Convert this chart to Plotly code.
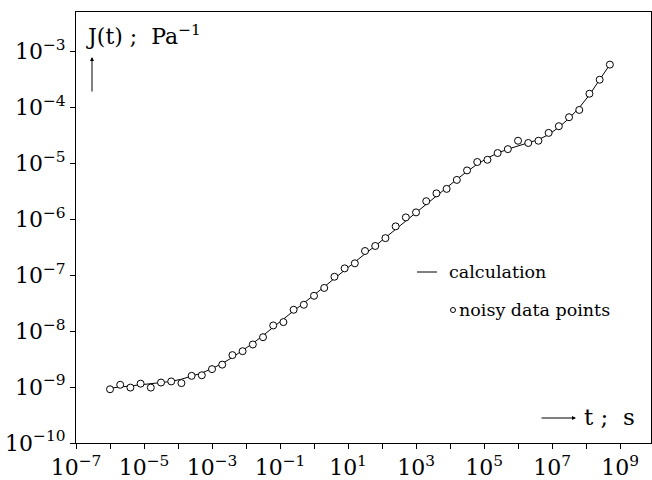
import plotly.graph_objects as go

# decimal exponents of time t (s)
log_t = [-6.0, -5.7, -5.4, -5.1, -4.8, -4.5, -4.2, -3.9, -3.6, -3.3,
         -3.0, -2.7, -2.4, -2.1, -1.8, -1.5, -1.2, -0.9, -0.6, -0.3,
         0.0, 0.3, 0.6, 0.9, 1.2, 1.5, 1.8, 2.1, 2.4, 2.7,
         3.0, 3.3, 3.6, 3.9, 4.2, 4.5, 4.8, 5.1, 5.4, 5.7,
         6.0, 6.3, 6.6, 6.9, 7.2, 7.5, 7.8, 8.1, 8.4, 8.7]

# decimal exponents of J(t) (Pa^-1), noisy data points
log_J_data = [-9.04, -8.96, -9.01, -8.94, -9.01, -8.92, -8.90, -8.93, -8.80, -8.79,
              -8.68, -8.60, -8.43, -8.36, -8.24, -8.11, -7.90, -7.84, -7.62, -7.53,
              -7.37, -7.23, -7.03, -6.88, -6.79, -6.57, -6.48, -6.34, -6.13, -5.97,
              -5.88, -5.68, -5.54, -5.46, -5.30, -5.13, -4.98, -4.94, -4.82, -4.75,
              -4.60, -4.64, -4.60, -4.46, -4.34, -4.18, -4.05, -3.76, -3.51, -3.24]

# decimal exponents of J(t), calculation curve
log_J_calc = [-9.02, -9.00, -8.98, -8.97, -8.95, -8.93, -8.90, -8.86, -8.81, -8.75,
              -8.67, -8.58, -8.47, -8.35, -8.22, -8.08, -7.93, -7.79, -7.64, -7.50,
              -7.36, -7.21, -7.06, -6.91, -6.77, -6.62, -6.48, -6.33, -6.18, -6.03,
              -5.88, -5.73, -5.58, -5.44, -5.29, -5.15, -5.02, -4.91, -4.82, -4.75,
              -4.69, -4.64, -4.58, -4.49, -4.36, -4.20, -4.01, -3.78, -3.52, -3.24]

# labelled decades on the time axis, and unlabelled in-between decades
x_label_exp = [-7, -5, -3, -1, 1, 3, 5, 7, 9]
x_minor_exp = [-6, -4, -2, 0, 2, 4, 6, 8]
x_tick_labels = ["10<sup>\u22127</sup>", "10<sup>\u22125</sup>", "10<sup>\u22123</sup>",
                 "10<sup>\u22121</sup>", "10<sup>1</sup>", "10<sup>3</sup>",
                 "10<sup>5</sup>", "10<sup>7</sup>", "10<sup>9</sup>"]
y_label_exp = [-10, -9, -8, -7, -6, -5, -4, -3]
y_tick_labels = ["10<sup>\u221210</sup>", "10<sup>\u22129</sup>", "10<sup>\u22128</sup>",
                 "10<sup>\u22127</sup>", "10<sup>\u22126</sup>", "10<sup>\u22125</sup>",
                 "10<sup>\u22124</sup>", "10<sup>\u22123</sup>"]

t = [10 ** v for v in log_t]
J_data = [10 ** v for v in log_J_data]
J_calc = [10 ** v for v in log_J_calc]

FONT = "DejaVu Serif"
NB = "\u00a0"

fig = go.Figure()
fig.add_trace(go.Scatter(x=t, y=J_calc, mode="lines", name="calculation",
                         line=dict(color="black", width=1), showlegend=False))
fig.add_trace(go.Scatter(x=t, y=J_data, mode="markers", name="noisy data points",
                         marker=dict(symbol="circle", size=7, color="white",
                                     line=dict(color="black", width=1)),
                         showlegend=False))

axis_common = dict(type="log", showgrid=False, zeroline=False, showline=True,
                   linecolor="black", linewidth=1, mirror=True, ticks="outside",
                   ticklen=5, tickcolor="black", tickwidth=1,
                   tickfont=dict(family=FONT, size=22, color="black"))

fig.update_xaxes(range=[-7, 9.91], tickmode="array",
                 tickvals=[10 ** e for e in x_label_exp], ticktext=x_tick_labels,
                 minor=dict(tickvals=[10 ** e for e in x_minor_exp], ticks="outside",
                            ticklen=5, tickcolor="black", tickwidth=1, showgrid=False),
                 **axis_common)
fig.update_yaxes(range=[-10, -2.30], tickmode="array",
                 tickvals=[10 ** e for e in y_label_exp], ticktext=y_tick_labels,
                 **axis_common)

W, H = 652, 480
L, R, T, B = 76, 1, 12, 37
pw, ph = W - L - R, H - T - B


def px(xp):
    return (xp - L) / pw


def py(yp):
    return (H - B - yp) / ph


annotations = [
    dict(x=px(84), y=py(35), xref="paper", yref="paper", xanchor="left", yanchor="middle",
         text="J(t)" + NB + ";" + NB + NB + "Pa<sup>\u22121</sup>", showarrow=False,
         font=dict(family=FONT, size=22, color="black")),
    dict(x=px(92), y=py(57), xref="paper", yref="paper", text="", showarrow=True,
         ax=0, ay=36, arrowhead=2, arrowsize=0.8, arrowwidth=1, arrowcolor="black"),
    dict(x=px(576), y=py(418), xref="paper", yref="paper", text="", showarrow=True,
         ax=-36, ay=0, arrowhead=2, arrowsize=0.8, arrowwidth=1, arrowcolor="black"),
    dict(x=px(582), y=py(417), xref="paper", yref="paper", xanchor="left", yanchor="middle",
         text="t" + NB + ";" + NB + NB + "s", showarrow=False,
         font=dict(family=FONT, size=23, color="black")),
    dict(x=px(447), y=py(272), xref="paper", yref="paper", xanchor="left", yanchor="middle",
         text="calculation", showarrow=False, font=dict(family=FONT, size=17.5, color="black")),
    dict(x=px(457), y=py(310), xref="paper", yref="paper", xanchor="left", yanchor="middle",
         text="noisy" + NB + "data" + NB + "points", showarrow=False,
         font=dict(family=FONT, size=17.5, color="black")),
]

shapes = [
    dict(type="line", xref="paper", yref="paper", x0=px(417), x1=px(437),
         y0=py(272), y1=py(272), line=dict(color="black", width=1)),
    dict(type="circle", xref="paper", yref="paper", x0=px(450.5), x1=px(455.5),
         y0=py(307.5), y1=py(312.5), line=dict(color="black", width=1)),
]

fig.update_layout(width=W, height=H, autosize=False,
                  margin=dict(l=L, r=R, t=T, b=B, pad=0),
                  paper_bgcolor="white", plot_bgcolor="white",
                  annotations=annotations, shapes=shapes, showlegend=False,
                  font=dict(family=FONT, color="black"))

fig.write_html("out.html")
